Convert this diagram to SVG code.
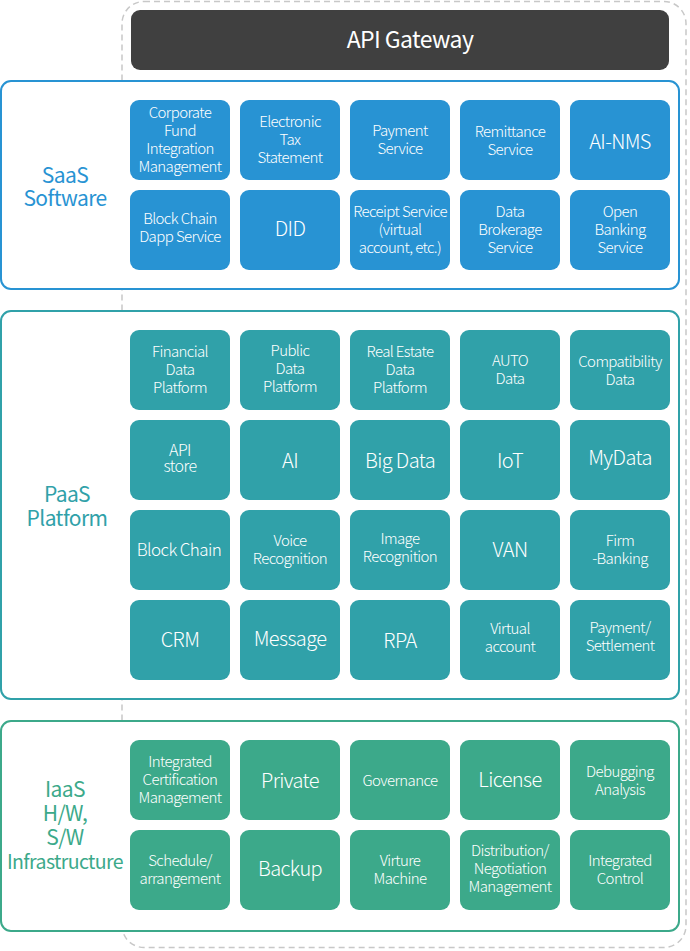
<svg xmlns="http://www.w3.org/2000/svg" width="690" height="951" viewBox="0 0 690 951">
<style>
text{font-family:"Noto Sans CJK KR","Noto Sans",sans-serif;text-anchor:middle;letter-spacing:-0.6px}
.t{fill:#fff;font-size:15px;font-weight:300}
.b{fill:#fff;font-size:20px;font-weight:300}
.m{fill:#fff;font-size:17px;font-weight:300}
.saas rect.tile{fill:#2893d3}
.paas rect.tile{fill:#30a1a9}
.iaas rect.tile{fill:#3ca98a}
.sec{fill:#fff;stroke-width:2}
.lbl{font-size:21px}
</style>
<g id="connectors">
<rect x="122" y="1.5" width="564" height="946" rx="22" fill="none" stroke="#c8c8c8" stroke-width="1.5" stroke-dasharray="6,4"/>
</g>
<g id="gateway">
<rect x="131" y="10" width="538" height="60" rx="9" fill="#404040"/>
<text x="410" y="48" fill="#fff" font-size="23">API Gateway</text>
</g>
<g id="saas" class="saas">
<rect class="sec" x="1" y="81" width="678" height="208" rx="10" stroke="#2893d3"/>
<text class="lbl" fill="#2893d3" x="65" y="183">SaaS</text>
<text class="lbl" fill="#2893d3" x="65" y="206">Software</text>
<g id="s1"><rect class="tile" x="130" y="100" width="100" height="80" rx="9"/><text class="t" x="180"><tspan x="180" y="118">Corporate</tspan><tspan x="180" y="136">Fund</tspan><tspan x="180" y="154">Integration</tspan><tspan x="180" y="172">Management</tspan></text></g>
<g id="s2"><rect class="tile" x="240" y="100" width="100" height="80" rx="9"/><text class="t" x="290"><tspan x="290" y="127">Electronic</tspan><tspan x="290" y="145">Tax</tspan><tspan x="290" y="163">Statement</tspan></text></g>
<g id="s3"><rect class="tile" x="350" y="100" width="100" height="80" rx="9"/><text class="t"><tspan x="400" y="136">Payment</tspan><tspan x="400" y="154">Service</tspan></text></g>
<g id="s4"><rect class="tile" x="460" y="100" width="100" height="80" rx="9"/><text class="t"><tspan x="510" y="137">Remittance</tspan><tspan x="510" y="155">Service</tspan></text></g>
<g id="s5"><rect class="tile" x="570" y="100" width="100" height="80" rx="9"/><text class="b" x="620" y="149">AI-NMS</text></g>
<g id="s6"><rect class="tile" x="130" y="190" width="100" height="80" rx="9"/><text class="t"><tspan x="180" y="224">Block Chain</tspan><tspan x="180" y="242">Dapp Service</tspan></text></g>
<g id="s7"><rect class="tile" x="240" y="190" width="100" height="80" rx="9"/><text class="b" x="290" y="236">DID</text></g>
<g id="s8"><rect class="tile" x="350" y="190" width="100" height="80" rx="9"/><text class="t"><tspan x="400" y="217">Receipt Service</tspan><tspan x="400" y="235">(virtual</tspan><tspan x="400" y="253">account, etc.)</tspan></text></g>
<g id="s9"><rect class="tile" x="460" y="190" width="100" height="80" rx="9"/><text class="t"><tspan x="510" y="217">Data</tspan><tspan x="510" y="235">Brokerage</tspan><tspan x="510" y="253">Service</tspan></text></g>
<g id="s10"><rect class="tile" x="570" y="190" width="100" height="80" rx="9"/><text class="t"><tspan x="620" y="217">Open</tspan><tspan x="620" y="235">Banking</tspan><tspan x="620" y="253">Service</tspan></text></g>
</g>
<g id="paas" class="paas">
<rect class="sec" x="1" y="311" width="678" height="388" rx="10" stroke="#30a1a9"/>
<text class="lbl" fill="#30a1a9" x="67" y="502">PaaS</text>
<text class="lbl" fill="#30a1a9" x="67" y="526">Platform</text>
<g id="p1"><rect class="tile" x="130" y="330" width="100" height="80" rx="9"/><text class="t"><tspan x="180" y="357">Financial</tspan><tspan x="180" y="375">Data</tspan><tspan x="180" y="393">Platform</tspan></text></g>
<g id="p2"><rect class="tile" x="240" y="330" width="100" height="80" rx="9"/><text class="t"><tspan x="290" y="356">Public</tspan><tspan x="290" y="374">Data</tspan><tspan x="290" y="392">Platform</tspan></text></g>
<g id="p3"><rect class="tile" x="350" y="330" width="100" height="80" rx="9"/><text class="t"><tspan x="400" y="357">Real Estate</tspan><tspan x="400" y="375">Data</tspan><tspan x="400" y="393">Platform</tspan></text></g>
<g id="p4"><rect class="tile" x="460" y="330" width="100" height="80" rx="9"/><text class="t"><tspan x="510" y="366">AUTO</tspan><tspan x="510" y="384">Data</tspan></text></g>
<g id="p5"><rect class="tile" x="570" y="330" width="100" height="80" rx="9"/><text class="t"><tspan x="620" y="367">Compatibility</tspan><tspan x="620" y="385">Data</tspan></text></g>
<g id="p6"><rect class="tile" x="130" y="420" width="100" height="80" rx="9"/><text class="t"><tspan x="180" y="456" font-size="16">API</tspan><tspan x="180" y="472" font-size="16">store</tspan></text></g>
<g id="p7"><rect class="tile" x="240" y="420" width="100" height="80" rx="9"/><text class="b" x="290" y="468">AI</text></g>
<g id="p8"><rect class="tile" x="350" y="420" width="100" height="80" rx="9"/><text class="b" x="400" y="468">Big Data</text></g>
<g id="p9"><rect class="tile" x="460" y="420" width="100" height="80" rx="9"/><text class="b" x="510" y="468">IoT</text></g>
<g id="p10"><rect class="tile" x="570" y="420" width="100" height="80" rx="9"/><text class="b" x="620" y="465">MyData</text></g>
<g id="p11"><rect class="tile" x="130" y="510" width="100" height="80" rx="9"/><text class="m" x="179" y="556">Block Chain</text></g>
<g id="p12"><rect class="tile" x="240" y="510" width="100" height="80" rx="9"/><text class="t"><tspan x="290" y="546">Voice</tspan><tspan x="290" y="564">Recognition</tspan></text></g>
<g id="p13"><rect class="tile" x="350" y="510" width="100" height="80" rx="9"/><text class="t"><tspan x="400" y="544">Image</tspan><tspan x="400" y="562">Recognition</tspan></text></g>
<g id="p14"><rect class="tile" x="460" y="510" width="100" height="80" rx="9"/><text class="b" x="510" y="557">VAN</text></g>
<g id="p15"><rect class="tile" x="570" y="510" width="100" height="80" rx="9"/><text class="t"><tspan x="620" y="546">Firm</tspan><tspan x="620" y="564">-Banking</tspan></text></g>
<g id="p16"><rect class="tile" x="130" y="600" width="100" height="80" rx="9"/><text class="b" x="180" y="647">CRM</text></g>
<g id="p17"><rect class="tile" x="240" y="600" width="100" height="80" rx="9"/><text class="b" x="290" y="646">Message</text></g>
<g id="p18"><rect class="tile" x="350" y="600" width="100" height="80" rx="9"/><text class="b" x="400" y="648">RPA</text></g>
<g id="p19"><rect class="tile" x="460" y="600" width="100" height="80" rx="9"/><text class="t"><tspan x="510" y="634">Virtual</tspan><tspan x="510" y="652">account</tspan></text></g>
<g id="p20"><rect class="tile" x="570" y="600" width="100" height="80" rx="9"/><text class="t"><tspan x="620" y="633">Payment/</tspan><tspan x="620" y="651">Settlement</tspan></text></g>
</g>
<g id="iaas" class="iaas">
<rect class="sec" x="1" y="721" width="678" height="210" rx="10" stroke="#3ca98a"/>
<text class="lbl" fill="#3ca98a" font-size="20" letter-spacing="-0.6px"><tspan x="65" y="797">IaaS</tspan><tspan x="65" y="821">H/W,</tspan><tspan x="65" y="845">S/W</tspan><tspan x="65" y="869" font-size="19.5" letter-spacing="-0.6px">Infrastructure</tspan></text>
<g id="i1"><rect class="tile" x="130" y="740" width="100" height="80" rx="9"/><text class="t"><tspan x="180" y="767">Integrated</tspan><tspan x="180" y="785">Certification</tspan><tspan x="180" y="803">Management</tspan></text></g>
<g id="i2"><rect class="tile" x="240" y="740" width="100" height="80" rx="9"/><text class="b" x="290" y="788">Private</text></g>
<g id="i3"><rect class="tile" x="350" y="740" width="100" height="80" rx="9"/><text class="t" x="400" y="786">Governance</text></g>
<g id="i4"><rect class="tile" x="460" y="740" width="100" height="80" rx="9"/><text class="b" x="510" y="787">License</text></g>
<g id="i5"><rect class="tile" x="570" y="740" width="100" height="80" rx="9"/><text class="t"><tspan x="620" y="777">Debugging</tspan><tspan x="620" y="795">Analysis</tspan></text></g>
<g id="i6"><rect class="tile" x="130" y="830" width="100" height="80" rx="9"/><text class="t"><tspan x="180" y="866">Schedule/</tspan><tspan x="180" y="884">arrangement</tspan></text></g>
<g id="i7"><rect class="tile" x="240" y="830" width="100" height="80" rx="9"/><text class="b" x="290" y="876">Backup</text></g>
<g id="i8"><rect class="tile" x="350" y="830" width="100" height="80" rx="9"/><text class="t"><tspan x="400" y="866">Virture</tspan><tspan x="400" y="884">Machine</tspan></text></g>
<g id="i9"><rect class="tile" x="460" y="830" width="100" height="80" rx="9"/><text class="t"><tspan x="510" y="856">Distribution/</tspan><tspan x="510" y="874">Negotiation</tspan><tspan x="510" y="892">Management</tspan></text></g>
<g id="i10"><rect class="tile" x="570" y="830" width="100" height="80" rx="9"/><text class="t"><tspan x="620" y="866">Integrated</tspan><tspan x="620" y="884">Control</tspan></text></g>
</g>
</svg>
